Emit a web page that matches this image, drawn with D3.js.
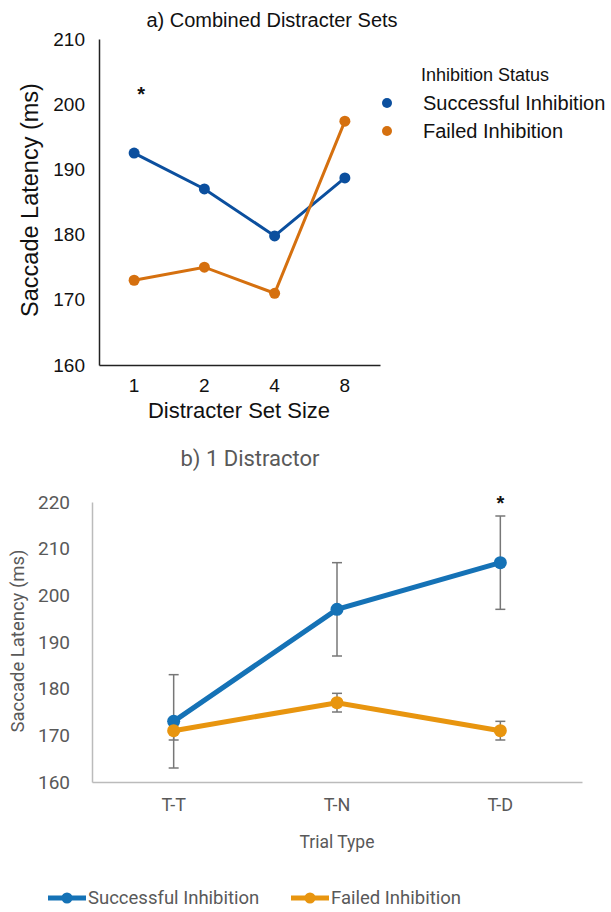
<!DOCTYPE html>
<html>
<head>
<meta charset="utf-8">
<script src="https://cdn.jsdelivr.net/npm/d3@7"></script>
<style>
  body { margin: 0; background: #fff; }
  svg { display: block; font-family: "Liberation Sans", Arial, sans-serif; }
</style>
</head>
<body>
<svg width="611" height="912"></svg>
<script>
// panel a
let setSizes = ["1", "2", "4", "8"];
let successA = [192.5, 187.0, 179.8, 188.7];
let failedA = [173.0, 175.0, 171.0, 197.4];
let ticksA = [160, 170, 180, 190, 200, 210];

// panel b
let trialTypes = ["T-T", "T-N", "T-D"];
let successB = [173, 197, 207];
let successErr = [10, 10, 10];
let failedB = [171, 177, 171];
let failedErr = [2, 2, 2];
let ticksB = [160, 170, 180, 190, 200, 210, 220];

let seriesNames = ["Successful Inhibition", "Failed Inhibition"];

let svg = d3.select("svg");

// ---------- a) Combined Distracter Sets ----------
let colA = ["#0b4f9e", "#d5700f"];
let xA = d3.scaleBand().domain(setSizes).range([99, 380]);
let yA = d3.scaleLinear().domain([160, 210]).range([365, 39]);

let gA = svg.append("g");

gA.append("text")
    .attr("x", 272).attr("y", 27)
    .attr("text-anchor", "middle")
    .attr("font-size", 20)
    .attr("fill", "#111")
    .text("a) Combined Distracter Sets");

let axA = gA.append("g")
    .attr("transform", "translate(99,0)")
    .call(d3.axisLeft(yA).tickValues(ticksA).tickSize(0).tickPadding(14));
axA.select(".domain").attr("stroke", "#222").attr("stroke-width", 1.5);
axA.selectAll("text").attr("font-size", 19).attr("fill", "#111").attr("font-family", "Liberation Sans, Arial");

let axAx = gA.append("g")
    .attr("transform", "translate(0,365)")
    .call(d3.axisBottom(xA).tickSize(0).tickPadding(14));
axAx.select(".domain").attr("stroke", "#222").attr("stroke-width", 1.5);
axAx.selectAll("text").attr("font-size", 19).attr("fill", "#111").attr("font-family", "Liberation Sans, Arial");

gA.append("text")
    .attr("transform", "translate(38,200) rotate(-90)")
    .attr("text-anchor", "middle")
    .attr("font-size", 23.5)
    .attr("fill", "#111")
    .text("Saccade Latency (ms)");

gA.append("text")
    .attr("x", 239).attr("y", 418)
    .attr("text-anchor", "middle")
    .attr("font-size", 22)
    .attr("fill", "#111")
    .text("Distracter Set Size");

[successA, failedA].forEach((vals, i) => {
    let pts = setSizes.map((s, j) => [xA(s) + xA.bandwidth() / 2, yA(vals[j])]);
    gA.append("path")
        .attr("d", d3.line()(pts))
        .attr("fill", "none")
        .attr("stroke", colA[i])
        .attr("stroke-width", 3);
    gA.selectAll(null).data(pts).enter().append("circle")
        .attr("cx", d => d[0]).attr("cy", d => d[1])
        .attr("r", 5.5)
        .attr("fill", colA[i]);
});

gA.append("text")
    .attr("x", xA("1") + xA.bandwidth() / 2 + 7).attr("y", 101)
    .attr("text-anchor", "middle")
    .attr("font-size", 20)
    .attr("font-weight", "bold")
    .attr("fill", "#111")
    .text("*");

// legend a
gA.append("text")
    .attr("x", 421).attr("y", 81)
    .attr("font-size", 18)
    .attr("fill", "#111")
    .text("Inhibition Status");
seriesNames.forEach((n, i) => {
    gA.append("circle")
        .attr("cx", 387).attr("cy", 103 + i * 28)
        .attr("r", 5)
        .attr("fill", colA[i]);
    gA.append("text")
        .attr("x", 423).attr("y", 110 + i * 28)
        .attr("font-size", 20)
        .attr("fill", "#111")
        .text(n);
});

// ---------- b) 1 Distractor ----------
let colB = ["#1572b6", "#e8950f"];
let grey = "#595959";
let xB = d3.scaleBand().domain(trialTypes).range([92, 582]);
let yB = d3.scaleLinear().domain([160, 220]).range([782, 502]);

let gB = svg.append("g").attr("font-family", "Roboto, 'Liberation Sans', sans-serif");

gB.append("text")
    .attr("x", 250).attr("y", 466)
    .attr("text-anchor", "middle")
    .attr("font-size", 22)
    .attr("fill", grey)
    .text("b) 1 Distractor");

let axB = gB.append("g")
    .attr("transform", "translate(92,0)")
    .call(d3.axisLeft(yB).tickValues(ticksB).tickSize(0).tickPadding(22));
axB.select(".domain").attr("stroke", "#bbb").attr("stroke-width", 1.5);
axB.selectAll("text").attr("font-size", 19).attr("fill", grey).attr("font-family", "Roboto, 'Liberation Sans', sans-serif");

let axBx = gB.append("g")
    .attr("transform", "translate(0,782)")
    .call(d3.axisBottom(xB).tickSize(0).tickPadding(16));
axBx.select(".domain").attr("stroke", "#bbb").attr("stroke-width", 1.5);
axBx.selectAll("text").attr("font-size", 18).attr("fill", grey).attr("font-family", "Roboto, 'Liberation Sans', sans-serif");

gB.append("text")
    .attr("transform", "translate(24,641) rotate(-90)")
    .attr("text-anchor", "middle")
    .attr("font-size", 18.5)
    .attr("fill", grey)
    .text("Saccade Latency (ms)");

gB.append("text")
    .attr("x", 337).attr("y", 848)
    .attr("text-anchor", "middle")
    .attr("font-size", 17.5)
    .attr("fill", grey)
    .text("Trial Type");

[[successB, successErr], [failedB, failedErr]].forEach(([vals, errs], i) => {
    let cx = t => xB(t) + xB.bandwidth() / 2;
    // error bars
    trialTypes.forEach((t, j) => {
        let x = cx(t), lo = yB(vals[j] - errs[j]), hi = yB(vals[j] + errs[j]);
        gB.append("line").attr("x1", x).attr("x2", x).attr("y1", lo).attr("y2", hi)
            .attr("stroke", "#777").attr("stroke-width", 1.5);
        [lo, hi].forEach(yy => gB.append("line")
            .attr("x1", x - 5).attr("x2", x + 5).attr("y1", yy).attr("y2", yy)
            .attr("stroke", "#777").attr("stroke-width", 1.5));
    });
});

[successB, failedB].forEach((vals, i) => {
    let pts = trialTypes.map((t, j) => [xB(t) + xB.bandwidth() / 2, yB(vals[j])]);
    gB.append("path")
        .attr("d", d3.line()(pts))
        .attr("fill", "none")
        .attr("stroke", colB[i])
        .attr("stroke-width", 5);
    gB.selectAll(null).data(pts).enter().append("circle")
        .attr("cx", d => d[0]).attr("cy", d => d[1])
        .attr("r", 6.5)
        .attr("fill", colB[i]);
});

gB.append("text")
    .attr("x", xB("T-D") + xB.bandwidth() / 2).attr("y", yB(successB[2] + successErr[2]) - 6)
    .attr("text-anchor", "middle")
    .attr("font-size", 20)
    .attr("font-weight", "bold")
    .attr("fill", "#111")
    .attr("font-family", "'Liberation Sans', Arial")
    .text("*");

// legend b
let legX = [48, 291];
seriesNames.forEach((n, i) => {
    let x0 = legX[i];
    gB.append("line")
        .attr("x1", x0).attr("x2", x0 + 38).attr("y1", 898).attr("y2", 898)
        .attr("stroke", colB[i]).attr("stroke-width", 5);
    gB.append("circle")
        .attr("cx", x0 + 19).attr("cy", 898).attr("r", 5.5)
        .attr("fill", colB[i]);
    gB.append("text")
        .attr("x", x0 + 40).attr("y", 904)
        .attr("font-size", 18.5)
        .attr("fill", grey)
        .text(n);
});
</script>
</body>
</html>
